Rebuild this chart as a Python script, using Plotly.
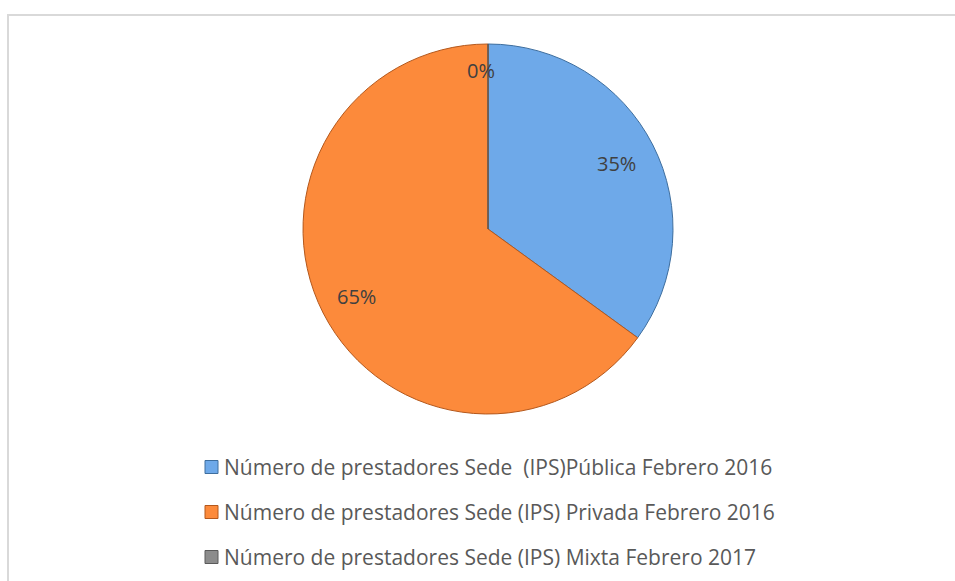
import math
import plotly.graph_objects as go

# Prestadores (IPS) por naturaleza jurídica
labels = [
    "Número de prestadores Sede \u00a0(IPS)Pública Febrero 2016",
    "Número de prestadores Sede (IPS) Privada Febrero 2016",
    "Número de prestadores Sede (IPS) Mixta Febrero 2017",
]
values = [35, 65, 0]
slice_colors = ["#6EA9E9", "#FC8A3B", "#8C8C8C"]
edge_colors = ["#3E6E9E", "#B4581C", "#5A5A5A"]

FONT = "'Open Sans', Lato, sans-serif"
W, H = 955, 581

# pie placement (pixels)
CX, CY, R = 488, 229, 185
dom_x = [(CX - R) / W, (CX + R) / W]
dom_y = [1 - (CY + R) / H, 1 - (CY - R) / H]

fig = go.Figure(
    go.Pie(
        labels=labels,
        values=values,
        sort=False,
        direction="clockwise",
        rotation=0,
        marker=dict(colors=slice_colors, line=dict(color=edge_colors, width=1)),
        textinfo="none",
        domain=dict(x=dom_x, y=dom_y),
        showlegend=False,
        hoverinfo="label+percent",
    )
)

# percentage labels placed at each slice's mid-angle
label_radius = [0.78, 0.80, 0.855]
label_dx = [0, 0, -7]
total = sum(values)
start = 0.0
for v, rf, dx in zip(values, label_radius, label_dx):
    frac = v / total
    mid = (start + frac / 2) * 2 * math.pi
    start += frac
    px = CX + rf * R * math.sin(mid) + dx
    py = CY - rf * R * math.cos(mid)
    fig.add_annotation(
        xref="paper", yref="paper", x=px / W, y=1 - py / H,
        xanchor="center", yanchor="middle", showarrow=False,
        text=f"{frac:.0%}", font=dict(family=FONT, size=20, color="#404040"),
    )

# legend rows drawn beneath the pie
legend_y = [467, 512, 557]
for lab, col, edge, yy in zip(labels, slice_colors, edge_colors, legend_y):
    fig.add_shape(
        type="rect", xref="paper", yref="paper",
        x0=205 / W, x1=218 / W,
        y0=1 - (yy + 6.5) / H, y1=1 - (yy - 6.5) / H,
        fillcolor=col, line=dict(color=edge, width=1),
    )
    fig.add_annotation(
        xref="paper", yref="paper", x=222 / W, y=1 - yy / H,
        xanchor="left", yanchor="middle", showarrow=False,
        text=lab, font=dict(family=FONT, size=21, color="#595959"),
    )

# chart area frame
fig.add_shape(
    type="rect", xref="paper", yref="paper",
    x0=8 / W, x1=1.01, y0=-0.01, y1=1 - 15 / H,
    line=dict(color="#D9D9D9", width=2), fillcolor="rgba(0,0,0,0)",
)

fig.update_layout(
    width=W, height=H,
    margin=dict(l=0, r=0, t=0, b=0),
    paper_bgcolor="white", plot_bgcolor="white",
)

fig.write_html("out.html")
